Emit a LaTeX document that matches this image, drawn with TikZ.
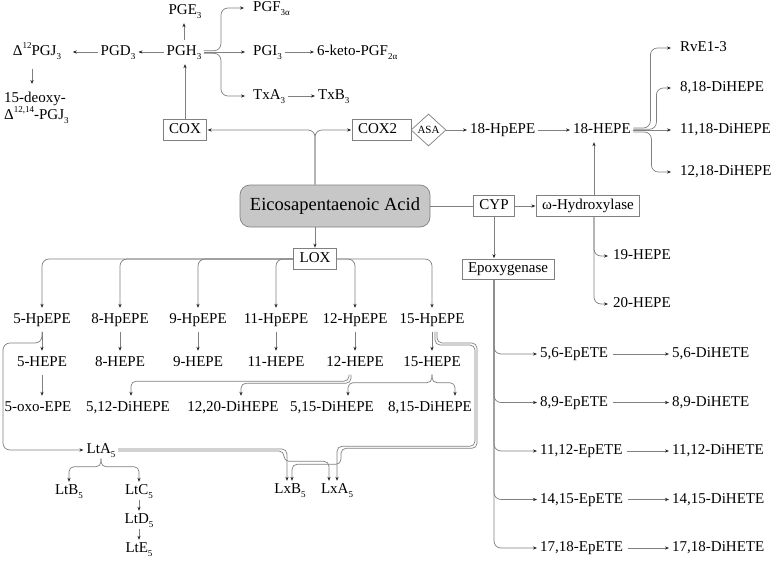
\documentclass[tikz,border=0pt]{standalone}
\usepackage{fontspec}
\setmainfont{Liberation Serif}
\usetikzlibrary{arrows.meta,shapes.geometric,calc}
\newcommand\mysub[1]{\raisebox{-0.28em}{\fontsize{9}{9}\selectfont #1}}
\newcommand\mysup[1]{\raisebox{0.45em}{\fontsize{9}{9}\selectfont #1}}
\begin{document}
\begin{tikzpicture}[x=1pt,y=-1pt,
  lbl/.style={inner xsep=2.5pt,inner ysep=5pt,font=\fontsize{15}{17}\selectfont,text height=10pt,text depth=3pt},
  lt/.style={lbl,inner ysep=2pt},
  box/.style={draw=black!50,line width=0.7pt,inner xsep=6pt,inner ysep=2pt,minimum height=21pt,font=\fontsize{15}{17}\selectfont,text height=10pt,text depth=3pt},
  ln/.style={draw=black!50,line width=0.7pt},
  arr/.style={ln,-{Stealth[length=4pt,width=3.2pt,color=black!85]},shorten >=0.5pt},
  rc/.style={rounded corners=7pt},
  rcs/.style={rounded corners=5pt}]
\useasboundingbox (0,0) rectangle (774,560);

% ---------- top: prostaglandins ----------
\node[lbl] (PGE) at (185,11) {PGE\mysub{3}};
\node[lbl] (PGH) at (184,52) {PGH\mysub{3}};
\node[lbl] (PGD) at (118,52) {PGD\mysub{3}};
\node[lbl] (DPGJ) at (37,52) {Δ\mysup{12}PGJ\mysub{3}};
\node[inner sep=2pt,font=\fontsize{15}{15.5}\selectfont,align=left,anchor=west] (deoxy) at (2,108) {15-deoxy-\\Δ\mysup{12,14}-PGJ\mysub{3}};
\node[lbl,anchor=west] (PGF) at (250.5,8) {PGF\mysub{3α}};
\node[lbl,anchor=west] (PGI) at (250.5,52) {PGI\mysub{3}};
\node[lbl,anchor=west] (keto) at (314.5,52) {6-keto-PGF\mysub{2α}};
\node[lbl,anchor=west] (TxA) at (250.5,96) {TxA\mysub{3}};
\node[lbl,anchor=west] (TxB) at (315.5,96) {TxB\mysub{3}};

\node[box] (COX) at (185,130) {COX};
\node[box,text width=47pt,align=left] (COX2) at (381.5,130) {COX2};
\node[draw=black!50,line width=0.7pt,fill=white,diamond,minimum width=35pt,minimum height=32pt,inner sep=0pt,font=\fontsize{11}{11}\selectfont] (ASA) at (428.5,130) {ASA};
\node[lbl,anchor=west] (HpE18) at (467.5,130) {18-HpEPE};
\node[lbl,anchor=west] (HE18) at (570.5,130) {18-HEPE};
\node[lbl,anchor=west] (RvE) at (677.5,48) {RvE1-3};
\node[lbl,anchor=west] (D818) at (677.5,88) {8,18-DiHEPE};
\node[lbl,anchor=west] (D1118) at (677.5,130) {11,18-DiHEPE};
\node[lbl,anchor=west] (D1218) at (677.5,172) {12,18-DiHEPE};

% ---------- middle ----------
\node[draw=black!50,line width=0.7pt,fill=black!22,rounded corners=10pt,minimum width=190pt,minimum height=42pt,font=\fontsize{18.5}{20}\selectfont] (EPA) at (335,206) {Eicosapentaenoic Acid};
\node[box] (CYP) at (494,206) {CYP};
\node[box] (Omega) at (588,206) {ω-Hydroxylase};
\node[box,minimum height=20pt] (Epox) at (508,269) {Epoxygenase};
\node[lbl,anchor=west] (H19) at (610.5,256) {19-HEPE};
\node[lbl,anchor=west] (H20) at (610.5,304) {20-HEPE};

\node[lbl,anchor=west] (Ep1) at (537.5,354) {5,6-EpETE};
\node[lbl,anchor=west] (Di1) at (669.5,354) {5,6-DiHETE};
\node[lbl,anchor=west] (Ep2) at (537.5,402.5) {8,9-EpETE};
\node[lbl,anchor=west] (Di2) at (669.5,402.5) {8,9-DiHETE};
\node[lbl,anchor=west] (Ep3) at (537.5,451) {11,12-EpETE};
\node[lbl,anchor=west] (Di3) at (669.5,451) {11,12-DiHETE};
\node[lbl,anchor=west] (Ep4) at (537.5,499.5) {14,15-EpETE};
\node[lbl,anchor=west] (Di4) at (669.5,499.5) {14,15-DiHETE};
\node[lbl,anchor=west] (Ep5) at (537.5,548) {17,18-EpETE};
\node[lbl,anchor=west] (Di5) at (669.5,548) {17,18-DiHETE};

% ---------- LOX ----------
\node[box] (LOX) at (315,259) {LOX};
\node[lbl] (Hp5) at (42,320) {5-HpEPE};
\node[lbl] (Hp8) at (120,320) {8-HpEPE};
\node[lbl] (Hp9) at (198,320) {9-HpEPE};
\node[lbl] (Hp11) at (276,320) {11-HpEPE};
\node[lbl] (Hp12) at (355,320) {12-HpEPE};
\node[lbl] (Hp15) at (432,320) {15-HpEPE};
\node[lbl] (He5) at (42,363) {5-HEPE};
\node[lbl] (He8) at (120,363) {8-HEPE};
\node[lbl] (He9) at (198,363) {9-HEPE};
\node[lbl] (He11) at (276,363) {11-HEPE};
\node[lbl] (He12) at (355,363) {12-HEPE};
\node[lbl] (He15) at (432,363) {15-HEPE};
\node[lbl] (Oxo) at (38,408) {5-oxo-EPE};
\node[lbl] (D512) at (128,408) {5,12-DiHEPE};
\node[lbl] (D1220) at (233,408) {12,20-DiHEPE};
\node[lbl] (D515) at (332,408) {5,15-DiHEPE};
\node[lbl] (D815) at (430,408) {8,15-DiHEPE};

\node[lt] (LtA) at (101,450) {LtA\mysub{5}};
\node[lt] (LtB) at (69,491) {LtB\mysub{5}};
\node[lt] (LtC) at (139,491) {LtC\mysub{5}};
\node[lt] (LtD) at (139,520) {LtD\mysub{5}};
\node[lt] (LtE) at (139,549) {LtE\mysub{5}};
\node[lt] (LxB) at (290,490) {LxB\mysub{5}};
\node[lt] (LxA) at (337,490) {LxA\mysub{5}};

\coordinate (railL) at (3,343);
\coordinate (railR1) at (477,343);
\coordinate (railR2) at (475,345);

% ---------- connectors: top ----------
\draw[arr] (COX.north) -- (COX.north |- PGH.south);
\draw[arr] (PGH.north) -- (PGH.north |- PGE.south);
\draw[arr] (PGH.west) -- (PGD.east);
\draw[arr,shorten >=9pt] (PGD.west) -- (DPGJ.east);
\draw[arr,shorten <=5pt,shorten >=6pt] ($(DPGJ.south)+(-5,0)$) -- ($(DPGJ.south |- deoxy.north)+(-5,0)$);
\draw[arr,rc] ($(PGH.east)+(0,-1.3)$) -- ($(PGH.east)+(17,-1.3)$) |- ($(PGF.west)+(-6,0)$);
\draw[arr] (PGH.east) -- ($(PGI.west)+(-5,0)$);
\draw[arr,rc] ($(PGH.east)+(0,1.3)$) -- ($(PGH.east)+(17,1.3)$) |- ($(TxA.west)+(-5,0)$);
\draw[arr] (PGI.east) -- (keto.west);
\draw[arr] (TxA.east) -- (TxB.west);

\draw[arr,rc] (EPA.north -| LOX.center) |- (COX.east);
\draw[arr,rc] (EPA.north -| LOX.center) |- (COX2.west);
\draw[arr] (ASA.east) -- (HpE18.west);
\draw[arr] (HpE18.east) -- (HE18.west);
\draw[arr,rc] ($(HE18.east)+(0,-2)$) -- ($(HE18.east)+(17,-2)$) |- ($(RvE.west)+(-6,0)$);
\draw[arr,rc] ($(HE18.east)+(0,-0.7)$) -- ($(HE18.east)+(23,-0.7)$) |- ($(D818.west)+(-6,0)$);
\draw[arr] (HE18.east) -- ($(D1118.west)+(-6,0)$);
\draw[arr,rc] ($(HE18.east)+(0,2)$) -- ($(HE18.east)+(18,2)$) |- ($(D1218.west)+(-6,0)$);

% ---------- connectors: CYP ----------
\draw[ln] (EPA.east) -- (CYP.west);
\draw[arr] (CYP.east) -- (Omega.west);
\draw[arr] ($(Omega.north)+(6,0)$) -- ($(Omega.north |- HE18.south)+(6,0)$);
\draw[arr,rc] ($(Omega.south)+(6,0)$) |- ($(H19.west)+(-2,0)$);
\draw[arr,rc] ($(Omega.south)+(6,0)$) |- ($(H20.west)+(-2,0)$);
\draw[arr] (CYP.south) -- (CYP.south |- Epox.north);
\draw[arr,rc] (CYP.south |- Epox.south) |- (Ep1.west);
\draw[arr,rc] (CYP.south |- Epox.south) |- (Ep2.west);
\draw[arr,rc] (CYP.south |- Epox.south) |- (Ep3.west);
\draw[arr,rc] (CYP.south |- Epox.south) |- (Ep4.west);
\draw[arr,rc] (CYP.south |- Epox.south) |- (Ep5.west);
\draw[arr,shorten <=2pt] (Ep1.east) -- (Di1.west);
\draw[arr,shorten <=2pt] (Ep2.east) -- (Di2.west);
\draw[arr,shorten <=2pt] (Ep3.east) -- (Di3.west);
\draw[arr,shorten <=2pt] (Ep4.east) -- (Di4.west);
\draw[arr,shorten <=2pt] (Ep5.east) -- (Di5.west);

% ---------- connectors: LOX ----------
\draw[arr] (EPA.south -| LOX.center) -- (LOX.north);
\draw[arr,rc] (LOX.west) -| (Hp5.north);
\draw[arr,rc] (LOX.west) -| (Hp8.north);
\draw[arr,rc] (LOX.west) -| (Hp9.north);
\draw[arr,rc] (LOX.west) -| (Hp11.north);
\draw[arr,rc] (LOX.east) -| (Hp12.north);
\draw[arr,rc] (LOX.east) -| (Hp15.north);
\draw[arr] (Hp5.south) -- (He5.north);
\draw[arr] (Hp8.south) -- (He8.north);
\draw[arr] (Hp9.south) -- (He9.north);
\draw[arr] (Hp11.south) -- (He11.north);
\draw[arr] (Hp12.south) -- (He12.north);
\draw[arr] (Hp15.south) -- (He15.north);
\draw[arr] (He5.south) -- (He5.south |- Oxo.north);
\draw[arr,rcs] ($(He12.south)+(-6,0)$) -- ($(He12.south)+(-6,6.5)$) -| ($(D512.north)+(3,0)$);
\draw[arr,rcs] ($(He12.south)+(-4,0)$) -- ($(He12.south)+(-4,8.5)$) -| ($(D1220.north)+(8,0)$);
\draw[arr,rcs] (He15.south) -- ($(He15.south)+(0,8)$) -| ($(D515.north)+(16,0)$);
\draw[arr,rcs] (He15.south) -- ($(He15.south)+(0,8)$) -| ($(D815.north)+(25,0)$);

% 5-HpEPE to LtA5
\draw[arr,rc] (Hp5.south) |- (railL) |- (LtA.west);
\draw[arr,rcs] (LtA.south) -- ($(LtA.south)+(0,8)$) -| (LtB.north);
\draw[arr,rcs] (LtA.south) -- ($(LtA.south)+(0,8)$) -| (LtC.north);
\draw[arr] (LtC.south) -- (LtD.north);
\draw[arr] (LtD.south) -- (LtE.north);

% lipoxins
\draw[arr,rcs] ($(LtA.east)+(0,-1)$) -| ($(LxB.north)+(-3,0)$);
\draw[arr,rcs] ($(LtA.east)+(0,1)$) -| ($(LxB.north)+(-6,-20)$) -| ($(LxA.north)+(-8,0)$);
\draw[arr,rcs] ($(Hp15.south)+(3,0)$) |- (railR2) |- ($(LxA.north)+(0,-35)$) -- (LxA.north);
\draw[arr,rcs] ($(Hp15.south)+(5,0)$) |- (railR1) |- ($(LxA.north)+(4,-33)$) |- ($(LxB.north)+(2,-17)$) -- ($(LxB.north)+(2,0)$);
\end{tikzpicture}
\end{document}
